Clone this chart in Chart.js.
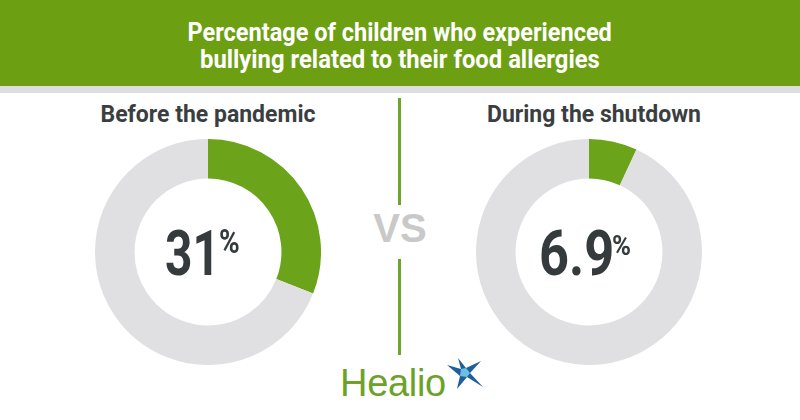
<!DOCTYPE html>
<html>
<head>
<meta charset="utf-8">
<script src="https://cdn.jsdelivr.net/npm/chart.js@4"></script>
<style>
  html, body { margin: 0; padding: 0; background: #fff; }
  #page { position: relative; width: 800px; height: 420px; overflow: hidden; font-family: Roboto, "Liberation Sans", sans-serif; }
  #header { position: absolute; left: 0; top: 0; width: 800px; height: 86px; background: #6c9f12; }
  #band { position: absolute; left: 0; top: 86px; width: 800px; height: 7px; background: #dedede; }
  .tline { position: absolute; left: 0; width: 800px; text-align: center; color: #fff; font-weight: bold;
           font-size: 25px; line-height: 25px; white-space: nowrap; }
  .tline span { display: inline-block; transform-origin: center; }
  .sub { position: absolute; top: 101px; width: 300px; text-align: center; color: #3b3e40; font-weight: bold; font-size: 23px; }
  .chartBox { position: absolute; width: 226px; height: 226px; }
  .num { position: absolute; color: #353a3c; font-weight: bold; white-space: nowrap; transform-origin: left top; }
  .vline { position: absolute; left: 398px; width: 3px; background: #6fa52a; }
  #vs { position: absolute; left: 350px; top: 205px; width: 100px; text-align: center; color: #c9c9c9; font-weight: bold;
        font-family: "Liberation Sans", Arial, sans-serif; font-size: 40px; line-height: 46px; }
  #logo { position: absolute; left: 340px; top: 364px; color: #6da22a; font-family: "Liberation Sans", Arial, sans-serif;
          font-size: 38px; line-height: 38px; letter-spacing: -0.3px; }
  #star { position: absolute; left: 445px; top: 357px; }
</style>
</head>
<body>
<div id="page">
  <div id="header"></div>
  <div id="band"></div>
  <div class="tline" style="top:20px"><span data-w="424">Percentage of children who experienced</span></div>
  <div class="tline" style="top:47px"><span data-w="400">bullying related to their food allergies</span></div>

  <div class="sub" style="left:58px">Before the pandemic</div>
  <div class="sub" style="left:444px">During the shutdown</div>

  <div class="chartBox" style="left:95px; top:139px"><canvas id="beforeChart"></canvas></div>
  <div class="chartBox" style="left:476px; top:139px"><canvas id="duringChart"></canvas></div>

  <div class="num" style="left:165px; top:222px; font-size:63px; line-height:63px; transform:scaleX(0.76)">31</div>
  <div class="num" style="left:219px; top:225px; font-size:33px; line-height:33px; transform:scaleX(0.85)">%</div>
  <div class="num" style="left:539px; top:222px; font-size:63px; line-height:63px; transform:scaleX(0.83)">6.9</div>
  <div class="num" style="left:612px; top:233px; font-size:27px; line-height:27px; transform:scaleX(0.95)">%</div>

  <div class="vline" style="top:98px; height:107px"></div>
  <div id="vs">VS</div>
  <div class="vline" style="top:259px; height:96px"></div>

  <div id="logo">Healio</div>
  <svg id="star" width="40" height="34" viewBox="0 0 40 34">
    <polygon points="2,8 16,12 13,1 21,11 36,4 25,16 38,30 22,20 12,32 15,19" fill="#1d5f9e"/>
    <polygon points="16,12 21,11 25,16 22,20 15,19" fill="#6cbfe0"/>
  </svg>
</div>

<script>
// **Data**
const labels = ["Experienced bullying", "Did not"];
const beforeValues = [31, 69];
const duringValues = [6.9, 93.1];
const sliceColors = ["#6ba31a", "#e0e0e2"];

// **Fit title lines to width**
document.querySelectorAll(".tline span").forEach(s => {
    let target = parseFloat(s.dataset.w);
    s.style.transform = "scaleX(" + (target / s.offsetWidth) + ")";
});

// **Donut**
function makeDonut(id, values) {
    let ctx = document.getElementById(id).getContext("2d");
    return new Chart(ctx, {
        type: "doughnut",
        data: {
            labels: labels,
            datasets: [{
                data: values,
                backgroundColor: sliceColors,
                borderWidth: 0
            }]
        },
        options: {
            responsive: true,
            maintainAspectRatio: false,
            animation: false,
            cutout: "65%",
            plugins: {
                legend: { display: false },
                tooltip: { enabled: false }
            }
        }
    });
}

makeDonut("beforeChart", beforeValues);
makeDonut("duringChart", duringValues);
</script>
</body>
</html>
